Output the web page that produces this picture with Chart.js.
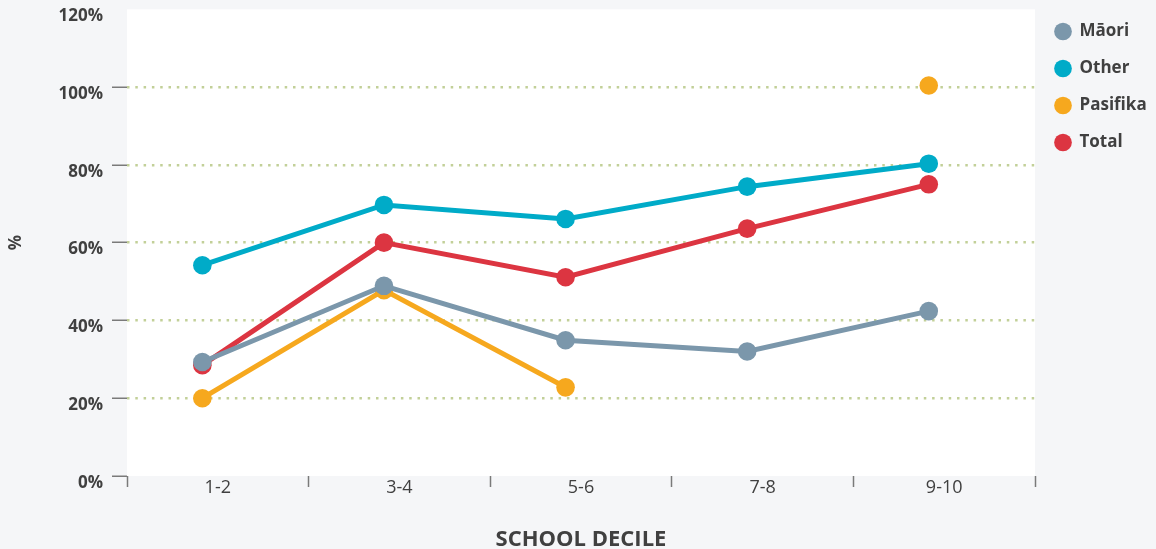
<!DOCTYPE html>
<html><head><meta charset="utf-8">
<script src="https://cdn.jsdelivr.net/npm/chart.js@4/dist/chart.umd.min.js"></script>
<style>
html,body{margin:0;padding:0;background:#f5f6f8;}
#wrap{width:1156px;height:549px;position:relative;}
</style>
</head><body><div id="wrap"><canvas id="c"></canvas></div>
<script>
const categories = ['1-2', '3-4', '5-6', '7-8', '9-10'];
const maori = [29.3, 48.9, 34.9, 32.0, 42.4];
const other = [54.2, 69.7, 66.1, 74.4, 80.3];
const pasifika = [20.0, 47.8, 22.8, null, 100.4];
const total = [28.5, 60.0, 51.1, 63.6, 75.0];
const yTicks = [0, 20, 40, 60, 80, 100, 120];
const seriesNames = ['Māori', 'Other', 'Pasifika', 'Total'];
const seriesColors = ['#7b97ab', '#00abc8', '#f6a81e', '#dc3541'];
const xTitle = 'SCHOOL DECILE';
const yTitle = '%';

const FONT = "'Open Sans', 'DejaVu Sans', sans-serif";
const seriesValues = [maori, other, pasifika, total];

const datasets = seriesValues.map((vals, k) => ({
  label: seriesNames[k],
  data: vals.map((v, i) => ({ x: i, y: v })),
  xAxisID: 'xd',
  yAxisID: 'y',
  borderColor: seriesColors[k],
  backgroundColor: seriesColors[k],
  pointBackgroundColor: seriesColors[k],
  pointBorderColor: seriesColors[k],
  pointBorderWidth: 0,
  pointRadius: 9.3,
  pointHoverRadius: 9.3,
  borderWidth: 5,
  tension: 0,
  spanGaps: false,
  fill: false
}));

const plotBg = {
  id: 'plotBg',
  beforeDraw(chart) {
    const { ctx, chartArea: a } = chart;
    ctx.save();
    ctx.fillStyle = '#f5f6f8';
    ctx.fillRect(0, 0, chart.width, chart.height);
    ctx.fillStyle = '#ffffff';
    ctx.fillRect(a.left, a.top, a.right - a.left, a.bottom - a.top);
    ctx.restore();
  }
};

new Chart(document.getElementById('c'), {
  type: 'line',
  data: { labels: categories, datasets },
  plugins: [plotBg],
  options: {
    responsive: true,
    maintainAspectRatio: false,
    animation: false,
    layout: { padding: { top: 3, right: 0, bottom: 0, left: 0 } },
    plugins: {
      tooltip: { enabled: false },
      legend: {
        position: 'right',
        align: 'start',
        maxWidth: 121,
        labels: {
          usePointStyle: true,
          pointStyle: 'circle',
          boxWidth: 16,
          boxHeight: 12.5,
          padding: 20,
          color: '#404040',
          font: { family: FONT, size: 17, weight: 'bold' }
        }
      }
    },
    scales: {
      x: {
        type: 'category',
        position: 'bottom',
        offset: true,
        border: { display: false },
        grid: {
          offset: true,
          drawOnChartArea: false,
          drawTicks: true,
          tickLength: 11,
          tickColor: '#7a7a7a',
          tickWidth: 1.5
        },
        ticks: {
          color: '#404040',
          padding: -10,
          font: { family: FONT, size: 18 }
        },
        title: {
          display: true,
          text: xTitle,
          color: '#404040',
          padding: { top: 0, bottom: -4 },
          font: { family: FONT, size: 22, weight: 'bold' }
        },
        afterFit(scale) { scale.height = 73; }
      },
      xd: {
        type: 'linear',
        display: false,
        min: -0.415,
        max: 4.585
      },
      y: {
        type: 'linear',
        position: 'left',
        min: 0,
        max: 120,
        border: { display: false, dash: [2.5, 5.8] },
        afterBuildTicks(scale) { scale.ticks = yTicks.map(v => ({ value: v })); },
        grid: {
          color: (c) => (c.tick && (c.tick.value === 0 || c.tick.value === 120)) ? 'rgba(0,0,0,0)' : '#c2d098',
          lineWidth: 2.5,
          tickLength: 15,
          tickBorderDash: [],
          tickColor: (c) => (c.tick && c.tick.value === 120) ? 'rgba(0,0,0,0)' : '#7a7a7a',
          tickWidth: 1.5
        },
        ticks: {
          color: '#404040',
          padding: 9,
          labelOffset: 7,
          font: { family: FONT, size: 17, weight: 'bold' },
          callback: (v) => v + '%'
        },
        title: {
          display: true,
          text: yTitle,
          color: '#404040',
          padding: { top: 6, bottom: 0 },
          font: { family: FONT, size: 17, weight: 'bold' }
        },
        afterFit(scale) { scale.width = 127; scale.paddingTop = 7; }
      }
    }
  }
});
</script>
</body></html>
